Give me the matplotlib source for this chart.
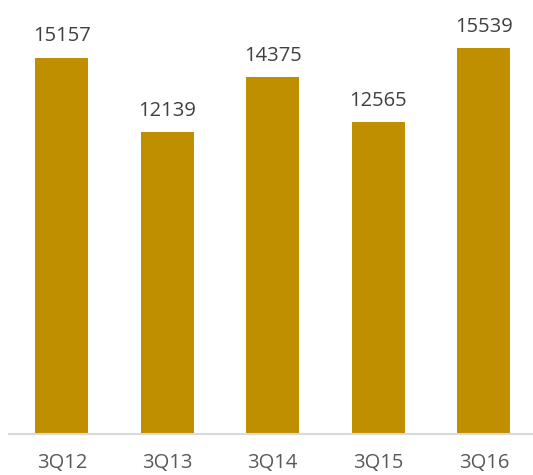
import matplotlib.pyplot as plt

# dados do gráfico
quarters = ['3Q12', '3Q13', '3Q14', '3Q15', '3Q16']
values = [15157, 12139, 14375, 12565, 15539]

bar_color = '#BF8F00'

fig = plt.figure(figsize=(5.33, 4.75), dpi=100)
ax = fig.add_axes([9 / 533, 41 / 475, 527.5 / 533, 397.4 / 475])

bars = ax.bar(quarters, values, width=0.5, color=bar_color)
ax.set_xlim(-0.5, len(quarters) - 0.5)
ax.set_ylim(0, 16000)

# etiquetas com os valores acima das barras
for x, v in zip(range(len(quarters)), values):
    ax.annotate(str(v), (x, v), xytext=(0, 8), textcoords='offset points',
                ha='center', va='bottom', fontsize=14.5, color='#404040',
                family='Open Sans')

for side in ['top', 'right', 'left']:
    ax.spines[side].set_visible(False)
ax.spines['bottom'].set_color('#D9D9D9')
ax.spines['bottom'].set_linewidth(1.5)
ax.spines['bottom'].set_clip_on(False)

ax.set_yticks([])
ax.tick_params(axis='x', length=0, pad=14, labelsize=14.5, labelcolor='#595959')
for lbl in ax.get_xticklabels():
    lbl.set_family('Open Sans')

fig.savefig('out.png', dpi=100)
